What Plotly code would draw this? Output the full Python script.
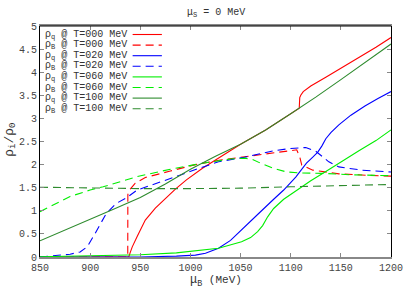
import plotly.graph_objects as go

# ---------------- data ----------------
# rho_q, T=000 MeV
mu_q000 = [850, 900, 937, 938.5, 940, 942, 947, 955, 965, 973, 985, 996, 1012, 1025, 1038, 1050,
           1075, 1100, 1108.5, 1109, 1110, 1112.5, 1120, 1135, 1150, 1167.5, 1185, 1200]
rho_q000 = [0, 0, 0, 0, 0.1, 0.22, 0.45, 0.80, 1.06, 1.23, 1.47, 1.67, 1.92, 2.10, 2.28, 2.44,
            2.75, 3.10, 3.22, 3.45, 3.50, 3.58, 3.70, 3.89, 4.08, 4.31, 4.54, 4.75]
# rho_B, T=000 MeV
mu_B000 = [850, 900, 937.5, 937.6, 940, 945, 955, 980, 1005, 1030, 1054, 1083, 1095, 1106,
           1109, 1111, 1122, 1148, 1175, 1200]
rho_B000 = [0, 0, 0, 1.35, 1.47, 1.60, 1.72, 1.86, 2.00, 2.10, 2.17, 2.25, 2.30, 2.32,
            2.17, 1.99, 1.88, 1.80, 1.77, 1.75]
# rho_q, T=020 MeV
mu_q020 = [850, 950, 986, 1005, 1015, 1028, 1040, 1051, 1067, 1083, 1093, 1105, 1115.7, 1122,
           1127, 1131, 1135, 1140, 1148, 1160, 1174, 1187, 1200]
rho_q020 = [0, 0, 0.02, 0.04, 0.08, 0.19, 0.36, 0.58, 0.92, 1.25, 1.45, 1.73, 2.03, 2.16,
            2.27, 2.40, 2.56, 2.69, 2.86, 3.07, 3.27, 3.43, 3.58]
# rho_B, T=020 MeV
mu_B020 = [850, 867, 880, 890, 897, 905, 916, 926, 935.5, 947, 966, 988, 1010, 1028, 1054,
           1083, 1100, 1115, 1125, 1138, 1148, 1171, 1200]
rho_B020 = [0, 0.03, 0.06, 0.11, 0.22, 0.51, 0.94, 1.16, 1.27, 1.45, 1.60, 1.76, 1.93, 2.06,
            2.16, 2.30, 2.35, 2.37, 2.29, 2.06, 1.95, 1.88, 1.84]
# rho_q, T=060 MeV
mu_q060 = [850, 900, 950, 986, 1005, 1028, 1051, 1060, 1067, 1072, 1077, 1083, 1093, 1106,
           1120, 1135, 1148, 1168, 1185, 1200]
rho_q060 = [0.005, 0.02, 0.05, 0.09, 0.13, 0.19, 0.33, 0.42, 0.55, 0.68, 0.87, 1.05, 1.25, 1.45,
            1.65, 1.85, 2.03, 2.30, 2.52, 2.75]
# rho_B, T=060 MeV
mu_B060 = [850, 880, 900, 913, 947, 980, 1012, 1040, 1054, 1062, 1070, 1083, 1096, 1110,
           1132, 1160, 1200]
rho_B060 = [0.98, 1.31, 1.45, 1.52, 1.74, 1.90, 2.03, 2.12, 2.14, 2.11, 2.03, 1.92, 1.84, 1.82,
            1.81, 1.78, 1.76]
# rho_q, T=100 MeV
mu_q100 = [850, 875, 900, 925, 950, 975, 1000, 1025, 1050, 1075, 1100, 1125, 1150, 1175, 1200]
rho_q100 = [0.35, 0.58, 0.82, 1.05, 1.29, 1.58, 1.90, 2.18, 2.44, 2.75, 3.10, 3.46, 3.84, 4.22, 4.61]
# rho_B, T=100 MeV
mu_B100 = [850, 900, 950, 1000, 1050, 1100, 1150, 1200]
rho_B100 = [1.51, 1.49, 1.48, 1.48, 1.49, 1.52, 1.55, 1.57]

x_ticks = [850, 900, 950, 1000, 1050, 1100, 1150, 1200]
series_labels = ["ρ<sub>q</sub> @ T=000 MeV", "ρ<sub>B</sub> @ T=000 MeV",
                 "ρ<sub>q</sub> @ T=020 MeV", "ρ<sub>B</sub> @ T=020 MeV",
                 "ρ<sub>q</sub> @ T=060 MeV", "ρ<sub>B</sub> @ T=060 MeV",
                 "ρ<sub>q</sub> @ T=100 MeV", "ρ<sub>B</sub> @ T=100 MeV"]

# ---------------- styling ----------------
RED, BLUE, LGREEN, DGREEN = "#ff0000", "#0000ff", "#00ee00", "#2e8b2e"
DASH = "8px,5px"
series = [
    (mu_q000, rho_q000, RED, "solid"),
    (mu_B000, rho_B000, RED, DASH),
    (mu_q020, rho_q020, BLUE, "solid"),
    (mu_B020, rho_B020, BLUE, DASH),
    (mu_q060, rho_q060, LGREEN, "solid"),
    (mu_B060, rho_B060, LGREEN, DASH),
    (mu_q100, rho_q100, DGREEN, "solid"),
    (mu_B100, rho_B100, DGREEN, DASH),
]

MONO = "Liberation Mono"
fig = go.Figure()
for (xs, ys, col, dash), name in zip(series, series_labels):
    fig.add_trace(go.Scatter(x=xs, y=ys, mode="lines", name=name,
                             line=dict(color=col, width=1.1, dash=dash),
                             showlegend=False, hoverinfo="skip"))

W, H = 415, 291
L, R, T, B = 40, 15, 26, 34
pw, ph = W - L - R, H - T - B

def px_x(p):
    return (p - L) / pw

def px_y(p):
    return (H - B - p) / ph

# manual gnuplot-style key (text left, line sample right)
for i, ((xs, ys, col, dash), name) in enumerate(zip(series, series_labels)):
    yy = 34.5 + i * 10.6
    fig.add_annotation(x=px_x(43), y=px_y(yy), xref="paper", yref="paper",
                       text=name, showarrow=False, xanchor="left", yanchor="middle",
                       font=dict(family=MONO, size=10, color="#333"))
    fig.add_shape(type="line", xref="paper", yref="paper",
                  x0=px_x(135), x1=px_x(165), y0=px_y(yy), y1=px_y(yy),
                  line=dict(color=col, width=1.1, dash=dash))

# top frame line
fig.add_shape(type="line", xref="paper", yref="paper", x0=0, x1=1, y0=1, y1=1,
              line=dict(color="black", width=1))

# axis titles / title
fig.add_annotation(x=0.5, y=px_y(13), xref="paper", yref="paper", showarrow=False,
                   xanchor="center", yanchor="middle",
                   text="μ<sub>S</sub> = 0 MeV", font=dict(family=MONO, size=10, color="#333"))
fig.add_annotation(x=0.5, y=px_y(281), xref="paper", yref="paper", showarrow=False,
                   xanchor="center", yanchor="middle",
                   text="<span style='font-size:12px'>μ<sub>B</sub></span> (MeV)",
                   font=dict(family=MONO, size=11, color="#333"))
fig.add_annotation(x=px_x(9), y=px_y(140), xref="paper", yref="paper", showarrow=False,
                   xanchor="center", yanchor="middle",
                   text="<span style='font-size:13px'>ρ<sub>i</sub>/ρ<sub>0</sub></span>",
                   textangle=-90, font=dict(family=MONO, size=11, color="#333"))

fig.update_layout(
    width=W, height=H, margin=dict(l=L, r=R, t=T, b=B),
    plot_bgcolor="white", paper_bgcolor="white", showlegend=False,
    xaxis=dict(range=[850, 1200], tickvals=x_ticks, ticks="inside", ticklen=4,
               tickcolor="#888", tickwidth=1, showline=True, linecolor="#888", linewidth=2,
               mirror="ticks", showgrid=False, zeroline=False,
               tickfont=dict(family=MONO, size=10, color="#444")),
    yaxis=dict(range=[0, 5], dtick=0.5, tick0=0, ticks="inside", ticklen=4,
               tickcolor="#888", tickwidth=1, showline=True, linecolor="black", linewidth=1,
               mirror="allticks", showgrid=False, zeroline=False,
               tickfont=dict(family=MONO, size=10, color="#444")),
)

fig.write_html("out.html", config={"displayModeBar": False},
               post_script="document.body.style.margin='0px';")
